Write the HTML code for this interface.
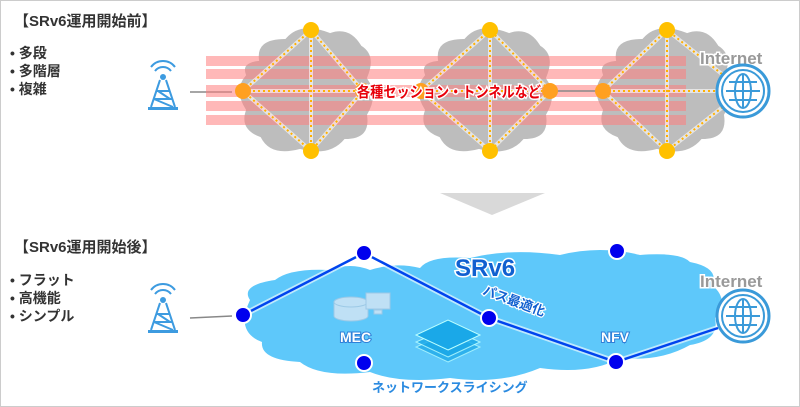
<!DOCTYPE html>
<html><head><meta charset="utf-8"><style>
html,body{margin:0;padding:0;background:#fff}
svg{display:block}
text{font-family:"Liberation Sans","Noto Sans CJK JP",sans-serif;font-weight:bold}
</style></head><body>
<svg width="800" height="407" viewBox="0 0 800 407" xmlns="http://www.w3.org/2000/svg">
<defs>
<g id="tower" fill="none" stroke="#3d9be0" stroke-width="2">
<path d="M-8,-14 a10,10 0 0,1 16,0 M-12,-18 a15,15 0 0,1 24,0" stroke-width="2"/>
<circle cx="0" cy="-8" r="3" fill="#3d9be0" stroke="none"/>
<path d="M-3,-5 L-12,22 M3,-5 L12,22 M-6,6 L6,6 M-9,14 L9,14 M-5,6 L7,14 M-9,14 L10,22" stroke-width="2"/>
<rect x="-15" y="22" width="30" height="3" fill="#3d9be0" stroke="none"/>
</g>
<g id="globe" fill="none" stroke="#3a9ad9">
<circle r="26" stroke-width="3" fill="#fff"/>
<circle r="21" stroke-width="2"/>
<ellipse rx="8" ry="17" stroke-width="2"/>
<path d="M0,-17 V17 M-17,0 H17 M-14,-9 H14 M-14,9 H14" stroke-width="2"/>
</g>
</defs>
<rect x="0.5" y="0.5" width="799" height="406" fill="#fff" stroke="#ccc"/>

<text x="14" y="26" font-size="15" fill="#333">【SRv6運用開始前】</text>
<text x="10" y="58" font-size="14" fill="#333">•  多段</text>
<text x="10" y="76" font-size="14" fill="#333">•  多階層</text>
<text x="10" y="94" font-size="14" fill="#333">•  複雑</text>
<use href="#tower" x="163" y="85"/>
<line x1="190" y1="92" x2="232" y2="92" stroke="#888" stroke-width="1.5"/>

<g fill="#bdbdbd" stroke="#fff" stroke-width="2">
<path d="M258,60 Q255,38 285,38 Q300,20 330,32 Q350,25 362,45 Q378,55 368,78 Q380,95 368,115 Q372,140 345,140 Q330,158 300,150 Q270,158 260,138 Q238,130 245,110 Q232,90 245,75 Q240,62 258,60Z"/>
<path d="M437,60 Q434,38 464,38 Q479,20 509,32 Q529,25 541,45 Q557,55 547,78 Q559,95 547,115 Q551,140 524,140 Q509,158 479,150 Q449,158 439,138 Q417,130 424,110 Q411,90 424,75 Q419,62 437,60Z"/>
<path d="M615,60 Q612,38 642,38 Q657,20 687,32 Q707,25 719,45 Q735,55 725,78 Q737,95 725,115 Q729,140 702,140 Q687,158 657,150 Q627,158 617,138 Q595,130 602,110 Q589,90 602,75 Q597,62 615,60Z"/>
</g>
<g fill="#ff7f7f" opacity="0.55">
<rect x="206" y="56" width="480" height="10"/>
<rect x="206" y="69" width="480" height="10"/>
<rect x="206" y="85" width="480" height="12"/>
<rect x="206" y="101" width="480" height="10"/>
<rect x="206" y="115" width="480" height="10"/>
</g>
<g stroke="#fff" stroke-width="4" opacity="0.6" fill="none">
<path d="M311,30 L243,91 L311,151 L363,91 Z M311,30 V151 M243,91 H363"/>
<path d="M490,30 L421,91 L490,151 L550,91 Z M490,30 V151 M421,91 H550"/>
<path d="M667,30 L603,91 L667,151 L743,91 Z M667,30 V151 M603,91 H743"/>
</g>
<g stroke="#ffb000" stroke-width="2" stroke-dasharray="2,3" fill="none">
<path d="M311,30 L243,91 L311,151 L363,91 Z M311,30 V151 M243,91 H363"/>
<path d="M490,30 L421,91 L490,151 L550,91 Z M490,30 V151 M421,91 H550"/>
<path d="M667,30 L603,91 L667,151 L743,91 Z M667,30 V151 M603,91 H743"/>
</g>
<line x1="550" y1="91" x2="603" y2="91" stroke="#888" stroke-width="1.5"/>
<g fill="#ffc000">
<circle cx="311" cy="30" r="8"/><circle cx="311" cy="151" r="8"/>
<circle cx="490" cy="30" r="8"/><circle cx="490" cy="151" r="8"/>
<circle cx="667" cy="30" r="8"/><circle cx="667" cy="151" r="8"/>
<circle cx="243" cy="91" r="8" fill="#ffa020"/><circle cx="363" cy="91" r="8" fill="#ffa020"/>
<circle cx="421" cy="91" r="8" fill="#ffa020"/><circle cx="550" cy="91" r="8" fill="#ffa020"/>
<circle cx="603" cy="91" r="8" fill="#ffa020"/>
</g>
<text x="357" y="97" font-size="15" fill="#e8000a" stroke="#fff" stroke-width="3" paint-order="stroke" textLength="184" lengthAdjust="spacingAndGlyphs">各種セッション・トンネルなど</text>
<text x="700" y="64" font-size="17" fill="#999" stroke="#fff" stroke-width="3" paint-order="stroke">Internet</text>
<use href="#globe" x="743" y="91"/>

<polygon points="440,193 545,193 492,215" fill="#d9d9d9"/>

<text x="14" y="252" font-size="15" fill="#333">【SRv6運用開始後】</text>
<text x="10" y="285" font-size="14" fill="#333">•  フラット</text>
<text x="10" y="303" font-size="14" fill="#333">•  高機能</text>
<text x="10" y="321" font-size="14" fill="#333">•  シンプル</text>
<use href="#tower" x="163" y="308"/>
<line x1="190" y1="318" x2="232" y2="316" stroke="#888" stroke-width="1.5"/>

<path d="M250,300 Q240,285 275,280 Q290,268 330,270 Q350,262 370,270 Q395,262 420,268 Q430,255 470,258 Q510,248 560,255 Q600,245 640,255 Q680,252 690,262 Q720,268 712,285 Q730,300 715,318 Q720,340 690,345 Q660,362 620,358 Q590,375 540,368 Q500,385 450,378 Q400,384 370,372 Q320,378 300,362 Q260,360 262,342 Q235,332 250,300Z" fill="#5ec8fa"/>

<g stroke="#fff" stroke-width="6" opacity="0.6" fill="none"><path d="M243,315 L364,253 L489,318 L616,362 L718,328"/></g>
<path d="M243,315 L364,253 L489,318 L616,362 L718,328" stroke="#0044ee" stroke-width="2.5" fill="none"/>
<g fill="#0000ee" stroke="#fff" stroke-width="2">
<circle cx="243" cy="315" r="8"/><circle cx="364" cy="253" r="8"/><circle cx="489" cy="318" r="8"/>
<circle cx="617" cy="251" r="8"/><circle cx="616" cy="362" r="8"/><circle cx="364" cy="363" r="8"/>
</g>
<g fill="#bfe0f5" stroke="#9cc9e6">
<path d="M334,302 v14 a17,5 0 0,0 34,0 v-14"/>
<ellipse cx="351" cy="302" rx="17" ry="5"/>
<rect x="366" y="293" width="24" height="16"/>
<rect x="374" y="310" width="8" height="4"/>
</g>
<text x="340" y="342" font-size="14" fill="#fff" stroke="#2f80d8" stroke-width="2" paint-order="stroke">MEC</text>
<g stroke="#bff" stroke-width="1" fill="#1aa8e8">
<polygon points="448,362 480,347 448,333 416,347" opacity="0.7"/>
<polygon points="448,357 480,342 448,328 416,342" opacity="0.8"/>
<polygon points="448,350 480,335 448,320 416,335"/>
</g>
<text x="455" y="276" font-size="24" fill="#1060d0" stroke="#fff" stroke-width="3" paint-order="stroke">SRv6</text>
<text x="482" y="294" font-size="13" fill="#1060d0" stroke="#fff" stroke-width="2.5" paint-order="stroke" transform="rotate(20 482 294)">パス最適化</text>
<text x="601" y="342" font-size="14" fill="#fff" stroke="#2f80d8" stroke-width="2" paint-order="stroke">NFV</text>
<text x="372" y="392" font-size="13" fill="#2a8ae0" font-weight="normal">ネットワークスライシング</text>
<text x="700" y="287" font-size="17" fill="#999" stroke="#fff" stroke-width="3" paint-order="stroke">Internet</text>
<use href="#globe" x="743" y="316"/>
</svg>
</body></html>
